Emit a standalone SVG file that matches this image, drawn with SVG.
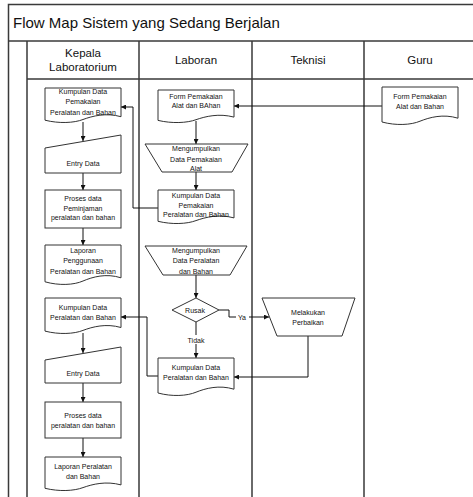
<svg xmlns="http://www.w3.org/2000/svg" width="473" height="497" viewBox="0 0 473 497">
  <style>
    .frame { fill: none; stroke: #3a3a3a; stroke-width: 1.5; }
    .shape { fill: #fff; stroke: #333; stroke-width: 1; }
    .conn { fill: none; stroke: #111; stroke-width: 1; }
    .t { font-family: "Liberation Sans", Arial, sans-serif; font-size: 7px; fill: #111; text-anchor: middle; }
    .hd { font-family: "Liberation Sans", Arial, sans-serif; font-size: 11.5px; fill: #111; text-anchor: middle; }
    .title { font-family: "Liberation Sans", Arial, sans-serif; font-size: 15px; fill: #111; }
    .lbl { fill: #fff; stroke: none; }
  </style>
  <defs>
    <marker id="arrow" viewBox="0 0 10 10" refX="10" refY="5" markerWidth="5" markerHeight="5" orient="auto" markerUnits="userSpaceOnUse">
      <path d="M0,0 L10,5 L0,10 Z" fill="#111"/>
    </marker>
  </defs>

  <rect width="473" height="497" fill="#fff"/>

  <!-- swimlane frame -->
  <g id="frame">
    <path class="frame" d="M8.5,497 V4.5 H480"/>
    <path class="frame" d="M8.5,41 H480"/>
    <path class="frame" d="M27,41 V497 M27,79 H480"/>
    <path class="frame" d="M139,41 V497 M252,41 V497 M364,41 V497"/>
    <text class="title" x="13" y="28">Flow Map Sistem yang Sedang Berjalan</text>
    <text class="hd" x="83" y="57">Kepala</text>
    <text class="hd" x="83" y="71">Laboratorium</text>
    <text class="hd" x="196" y="64">Laboran</text>
    <text class="hd" x="308" y="64">Teknisi</text>
    <text class="hd" x="420" y="64">Guru</text>
  </g>

  <!-- connectors -->
  <g id="connectors">
    <path class="conn" marker-end="url(#arrow)" d="M382,106 H234"/>
    <path class="conn" marker-end="url(#arrow)" d="M196,121 V144"/>
    <path class="conn" marker-end="url(#arrow)" d="M196,172 V190"/>
    <path class="conn" marker-end="url(#arrow)" d="M158,208 H133 V107 H121"/>
    <path class="conn" marker-end="url(#arrow)" d="M196,275 V298"/>
    <path class="conn" marker-end="url(#arrow)" d="M219,310 H229 V317 H269"/>
    <path class="conn" marker-end="url(#arrow)" d="M196,322 V358"/>
    <path class="conn" marker-end="url(#arrow)" d="M308,336 V377 H234"/>
    <path class="conn" marker-end="url(#arrow)" d="M158,376 H147 V317 H121"/>
    <path class="conn" marker-end="url(#arrow)" d="M83,122 V141"/>
    <path class="conn" marker-end="url(#arrow)" d="M83,173 V190"/>
    <path class="conn" marker-end="url(#arrow)" d="M83,228 V245"/>
    <path class="conn" marker-end="url(#arrow)" d="M83,333 V353"/>
    <path class="conn" marker-end="url(#arrow)" d="M83,383 V402"/>
    <path class="conn" marker-end="url(#arrow)" d="M83,438 V457"/>
    <rect class="lbl" x="236" y="312" width="13" height="9"/>
    <text class="t" x="242" y="319.5">Ya</text>
    <rect class="lbl" x="187" y="335" width="19" height="9"/>
    <text class="t" x="196" y="342.5">Tidak</text>
  </g>

  <!-- Kepala Laboratorium lane -->
  <g id="k-kumpulan-pemakaian">
    <path class="shape" d="M45,88 h76 v28.7 c-15,-4.2 -28.5,-0.7 -38,2.8 c-9,3.5 -24,4.2 -38,0.7 z"/>
    <text class="t" x="83" y="94">Kumpulan Data</text>
    <text class="t" x="83" y="104">Pemakaian</text>
    <text class="t" x="83" y="114.5">Peralatan dan Bahan</text>
  </g>
  <g id="k-entry-1">
    <path class="shape" d="M45,148 L121,135 V173 H45 Z"/>
    <text class="t" x="83" y="165.5">Entry Data</text>
  </g>
  <g id="k-proses-1">
    <rect class="shape" x="45" y="190" width="76" height="38"/>
    <text class="t" x="83" y="201">Proses data</text>
    <text class="t" x="83" y="210.5">Peminjaman</text>
    <text class="t" x="83" y="220">peralatan dan bahan</text>
  </g>
  <g id="k-laporan-penggunaan">
    <path class="shape" d="M45,245 h76 v32.8 c-15,-4.8 -28.5,-0.8 -38,3.2 c-9,4 -24,4.8 -38,0.8 z"/>
    <text class="t" x="83" y="253">Laporan</text>
    <text class="t" x="83" y="263">Penggunaan</text>
    <text class="t" x="83" y="274">Peralatan dan Bahan</text>
  </g>
  <g id="k-kumpulan-peralatan">
    <path class="shape" d="M45,298 h76 v29.5 c-15,-4.3 -28.5,-0.7 -38,2.9 c-9,3.6 -24,4.3 -38,0.7 z"/>
    <text class="t" x="83" y="310">Kumpulan Data</text>
    <text class="t" x="83" y="320">Peralatan dan Bahan</text>
  </g>
  <g id="k-entry-2">
    <path class="shape" d="M45,360 L121,347 V383 H45 Z"/>
    <text class="t" x="83" y="375.5">Entry Data</text>
  </g>
  <g id="k-proses-2">
    <rect class="shape" x="45" y="402" width="76" height="36"/>
    <text class="t" x="83" y="417.5">Proses data</text>
    <text class="t" x="83" y="427.5">peralatan dan bahan</text>
  </g>
  <g id="k-laporan-peralatan">
    <path class="shape" d="M45,457 h76 v27.9 c-15,-4.1 -28.5,-0.7 -38,2.7 c-9,3.4 -24,4.1 -38,0.7 z"/>
    <text class="t" x="83" y="468.5">Laporan Peralatan</text>
    <text class="t" x="83" y="478.5">dan Bahan</text>
  </g>

  <!-- Laboran lane -->
  <g id="l-form">
    <path class="shape" d="M158,90 h76 v27.1 c-15,-4 -28.5,-0.7 -38,2.6 c-9,3.3 -24,4 -38,0.7 z"/>
    <text class="t" x="196" y="98.5">Form Pemakaian</text>
    <text class="t" x="196" y="107.5">Alat dan BAhan</text>
  </g>
  <g id="l-mengumpulkan-pemakaian">
    <path class="shape" d="M145,144 H248 L232,172 H162 Z"/>
    <text class="t" x="196" y="150.5">Mengumpulkan</text>
    <text class="t" x="196" y="161.5">Data Pemakaian</text>
    <text class="t" x="196" y="170.5">Alat</text>
  </g>
  <g id="l-kumpulan-pemakaian">
    <path class="shape" d="M158,190 h76 v27.9 c-15,-4.1 -28.5,-0.7 -38,2.7 c-9,3.4 -24,4.1 -38,0.7 z"/>
    <text class="t" x="196" y="197.5">Kumpulan Data</text>
    <text class="t" x="196" y="207.5">Pemakaian</text>
    <text class="t" x="196" y="216.5">Peralatan dan Bahan</text>
  </g>
  <g id="l-mengumpulkan-peralatan">
    <path class="shape" d="M145,246 H247 L230,275 H163 Z"/>
    <text class="t" x="196" y="253">Mengumpulkan</text>
    <text class="t" x="196" y="263">Data Peralatan</text>
    <text class="t" x="196" y="273.5">dan Bahan</text>
  </g>
  <g id="l-rusak">
    <path class="shape" d="M196,298 L219,310 L196,322 L172,310 Z"/>
    <text class="t" x="195" y="312.5">Rusak</text>
  </g>
  <g id="l-kumpulan-peralatan">
    <path class="shape" d="M158,358 h76 v31.2 c-15,-4.6 -28.5,-0.8 -38,3 c-9,3.8 -24,4.6 -38,0.8 z"/>
    <text class="t" x="196" y="369.5">Kumpulan Data</text>
    <text class="t" x="196" y="379.5">Peralatan dan Bahan</text>
  </g>

  <!-- Teknisi lane -->
  <g id="t-perbaikan">
    <path class="shape" d="M262,298 H355 L342,336 H277 Z"/>
    <text class="t" x="308" y="314.5">Melakukan</text>
    <text class="t" x="308" y="324.5">Perbaikan</text>
  </g>

  <!-- Guru lane -->
  <g id="g-form">
    <path class="shape" d="M382,87 h76 v31.2 c-15,-4.6 -28.5,-0.8 -38,3 c-9,3.8 -24,4.6 -38,0.8 z"/>
    <text class="t" x="420" y="98.5">Form Pemakaian</text>
    <text class="t" x="420" y="108.5">Alat dan Bahan</text>
  </g>
</svg>
